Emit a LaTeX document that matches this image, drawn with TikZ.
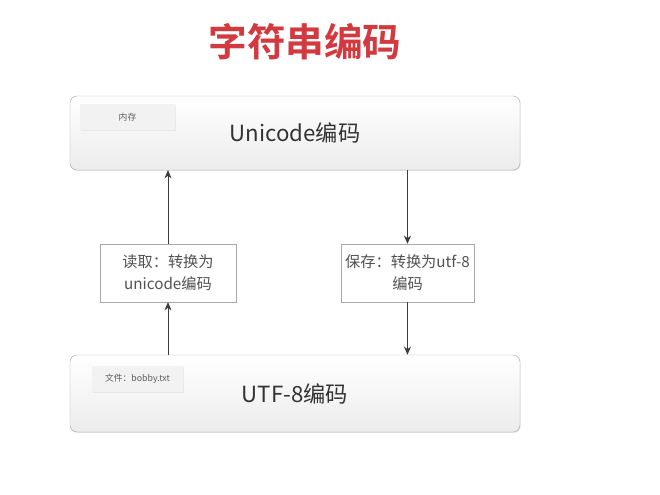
\documentclass[tikz,border=0pt]{standalone}
\usepackage{fontspec}
\setmainfont{Noto Sans CJK SC}[BoldFont={Noto Sans CJK SC Bold}]
\usetikzlibrary{arrows.meta,positioning,shadows}
\definecolor{ttred}{HTML}{D23A3F}
\definecolor{bxline}{HTML}{A8A8A8}
\definecolor{bxfill}{HTML}{ECECEC}
\definecolor{tagfill}{HTML}{F2F2F2}
\definecolor{txtdark}{HTML}{333333}
\definecolor{arrgray}{HTML}{3C3C3C}

\begin{document}
\begin{tikzpicture}[>={Stealth[length=7pt,width=6pt]},
  mainbox/.style={draw=bxline,rounded corners=6pt,top color=white,bottom color=bxfill,
    minimum width=13.5cm,text=txtdark,font=\fontsize{19}{22}\selectfont,
    drop shadow={opacity=0.2,shadow xshift=0.6pt,shadow yshift=-0.8pt}},
  tagbox/.style={fill=tagfill,minimum height=0.78cm,text=txtdark!80,font=\fontsize{7.5}{9}\selectfont,
    drop shadow={opacity=0.12,shadow xshift=0.6pt,shadow yshift=-0.6pt}},
  stepbox/.style={draw=bxline,fill=white,minimum height=1.74cm,align=center,text=txtdark!85,
    font=\fontsize{13}{19}\selectfont,
    drop shadow={opacity=0.15,shadow xshift=0.6pt,shadow yshift=-0.6pt}},
  flow/.style={->,arrgray,line width=0.6pt}]
\useasboundingbox[fill=white] (0,0) rectangle (19.8,-14.85);
% title
\node[text=ttred,font=\fontsize{33}{36}\selectfont\bfseries](title) at (9.15,-1.26){字符串编码};
% memory and file
\node[mainbox,minimum height=2.22cm](mem) at (8.85,-3.99){Unicode编码};
\node[tagbox,minimum width=2.85cm](memtag) at (3.825,-3.51){内存};
\node[mainbox,minimum height=2.31cm](file) at (8.85,-11.805){UTF-8编码};
\node[tagbox,minimum width=2.73cm](filetag) at (4.125,-11.37){文件：bobby.txt};
% conversions
\node[stepbox,minimum width=4.08cm](read) at (5.04,-8.19){读取：转换为\\unicode编码};
\node[stepbox,minimum width=3.99cm](save) at (12.225,-8.19){保存：转换为utf-8\\编码};
\draw[flow] (read.north) -- (read.north |- mem.south);
\draw[flow] (read.south |- file.north) -- (read.south);
\draw[flow] (save.north |- mem.south) -- (save.north);
\draw[flow] (save.south) -- (save.south |- file.north);
\end{tikzpicture}
\end{document}
